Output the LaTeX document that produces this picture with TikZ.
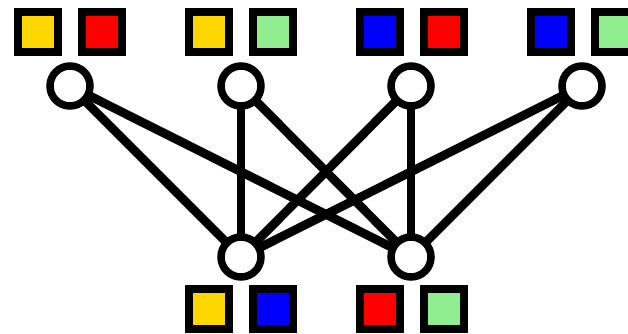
\documentclass[tikz,border=0pt]{standalone}
\usetikzlibrary{backgrounds}
\definecolor{cgold}{HTML}{FFD700}
\definecolor{cred}{HTML}{FF0000}
\definecolor{cblue}{HTML}{0000FF}
\definecolor{cgreen}{HTML}{90EE90}
\tikzset{
  vert/.style={circle,draw=black,fill=white,line width=7.5pt,minimum size=40pt,inner sep=0pt},
  sq/.style={rectangle,draw=black,line width=8pt,minimum size=40pt,inner sep=0pt},
  link/.style={line width=8.8pt,draw=black}
}
\begin{document}
\begin{tikzpicture}[x=1pt,y=-1pt]
\useasboundingbox (0,0) rectangle (628,334);
\clip (0,0) rectangle (628,334);
% top squares
\node[sq,fill=cgold]  (s1a) at (38,32.5) {};
\node[sq,fill=cred]   (s1b) at (102,32.5) {};
\node[sq,fill=cgold]  (s2a) at (209,32.5) {};
\node[sq,fill=cgreen] (s2b) at (273,32.5) {};
\node[sq,fill=cblue]  (s3a) at (380,32.5) {};
\node[sq,fill=cred]   (s3b) at (444,32.5) {};
\node[sq,fill=cblue]  (s4a) at (551,32.5) {};
\node[sq,fill=cgreen] (s4b) at (615,32.5) {};
% bottom squares
\node[sq,fill=cgold]  (u1a) at (209,309) {};
\node[sq,fill=cblue]  (u1b) at (273,309) {};
\node[sq,fill=cred]   (u2a) at (380,309) {};
\node[sq,fill=cgreen] (u2b) at (444,309) {};
% vertices
\node[vert] (t1) at (70,86) {};
\node[vert] (t2) at (241,86) {};
\node[vert] (t3) at (411,86) {};
\node[vert] (t4) at (582,86) {};
\node[vert] (b1) at (241,257) {};
\node[vert] (b2) at (411,257) {};
\begin{pgfonlayer}{background}
\foreach \t in {t1,t2,t3,t4}{
  \draw[link] (\t.center) -- (b1.center);
  \draw[link] (\t.center) -- (b2.center);
}
\end{pgfonlayer}
\end{tikzpicture}
\end{document}
